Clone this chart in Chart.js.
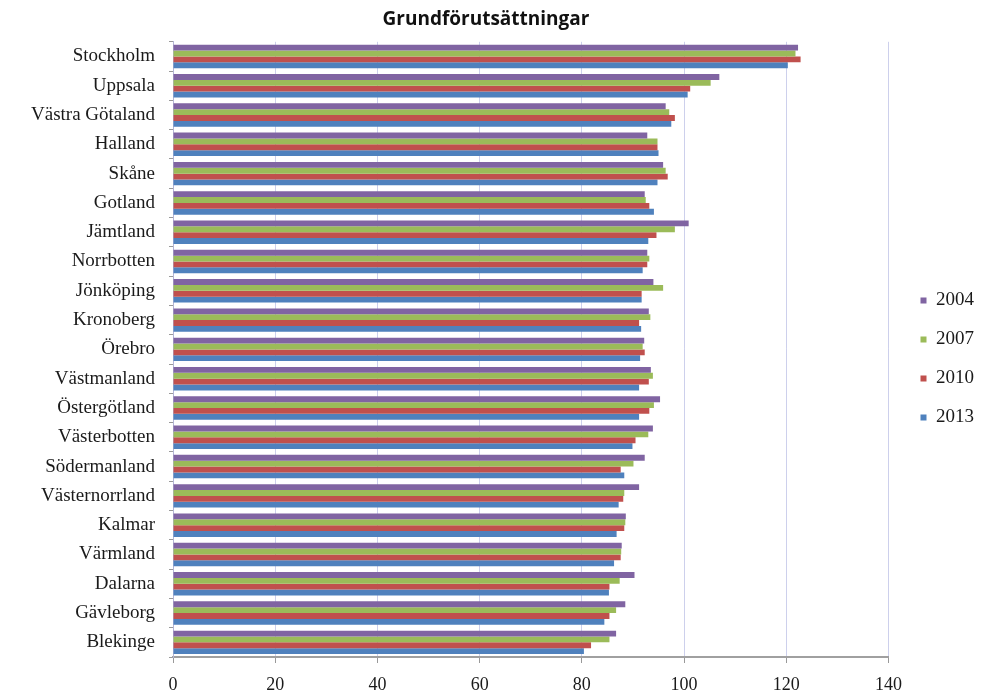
<!DOCTYPE html>
<html>
<head>
<meta charset="utf-8">
<script src="https://cdn.jsdelivr.net/npm/chart.js@4/dist/chart.umd.min.js"></script>
<style>
  html, body { margin: 0; padding: 0; background: #fff; }
</style>
</head>
<body>
<canvas id="lan" width="982" height="700"></canvas>
<script>
var regions = ['Stockholm', 'Uppsala', 'Västra Götaland', 'Halland', 'Skåne', 'Gotland',
  'Jämtland', 'Norrbotten', 'Jönköping', 'Kronoberg', 'Örebro', 'Västmanland',
  'Östergötland', 'Västerbotten', 'Södermanland', 'Västernorrland', 'Kalmar',
  'Värmland', 'Dalarna', 'Gävleborg', 'Blekinge'];

var years = ['2004', '2007', '2010', '2013'];

var v2004 = [122.3, 106.9, 96.4, 92.8, 95.9, 92.3, 100.9, 92.8, 94.0, 93.1, 92.2, 93.5,
  95.3, 93.9, 92.3, 91.2, 88.6, 87.8, 90.3, 88.5, 86.7];
var v2007 = [121.8, 105.2, 97.1, 94.8, 96.4, 92.5, 98.2, 93.2, 95.9, 93.4, 91.9, 93.9,
  94.1, 93.0, 90.1, 88.3, 88.5, 87.7, 87.4, 86.7, 85.4];
var v2010 = [122.8, 101.2, 98.2, 94.8, 96.8, 93.2, 94.6, 92.8, 91.7, 91.2, 92.3, 93.1,
  93.2, 90.5, 87.6, 88.1, 88.3, 87.6, 85.4, 85.4, 81.8];
var v2013 = [120.3, 100.7, 97.5, 95.0, 94.8, 94.1, 93.0, 91.9, 91.7, 91.6, 91.4, 91.2,
  91.2, 89.9, 88.3, 87.2, 86.8, 86.3, 85.3, 84.4, 80.4];

var colors = ['#8064A2', '#9BBB59', '#C0504D', '#4F81BD'];
var series = [v2004, v2007, v2010, v2013];

// legend sits a bit away from the plot, like the old spreadsheet layout
var legendShift = {
  id: 'legendShift',
  afterLayout: function(chart) {
    var lg = chart.legend;
    if (!lg) return;
    lg.left += 12;
    lg.right += 12;
    lg.top += 9;
    lg.bottom += 9;
  }
};

var serif = 'Liberation Serif, Times New Roman, serif';

var ctx = document.getElementById('lan');
var chart = new Chart(ctx, {
  type: 'bar',
  data: {
    labels: regions,
    datasets: series.map(function(d, i) {
      return {
        label: years[i],
        data: d,
        backgroundColor: colors[i],
        borderWidth: 0,
        categoryPercentage: 0.8,
        barPercentage: 1.0
      };
    })
  },
  options: {
    indexAxis: 'y',
    responsive: false,
    animation: false,
    layout: {
      padding: { left: 0, right: 10, top: 0, bottom: 0 }
    },
    plugins: {
      title: {
        display: true,
        text: 'Grundförutsättningar',
        color: '#111',
        font: { family: 'Open Sans', size: 19, weight: 'bold' },
        padding: { top: 8, bottom: 11 }
      },
      legend: {
        position: 'right',
        labels: {
          color: '#1a1a1a',
          boxWidth: 6,
          boxHeight: 6,
          padding: 20,
          font: { family: serif, size: 19 }
        }
      },
      tooltip: { enabled: false }
    },
    scales: {
      x: {
        min: 0,
        max: 140,
        afterFit: function(scale) { scale.height = 43; },
        ticks: {
          stepSize: 20,
          color: '#1a1a1a',
          padding: 11,
          font: { family: serif, size: 18 }
        },
        grid: {
          color: '#cdd0ec',
          tickColor: '#999',
          tickLength: 6
        },
        border: { color: '#a0a0a0', width: 2 }
      },
      y: {
        afterFit: function(scale) { scale.width = 173; },
        ticks: {
          color: '#1a1a1a',
          padding: 14,
          autoSkip: false,
          font: { family: serif, size: 19 }
        },
        grid: {
          drawOnChartArea: false,
          tickColor: '#999',
          tickLength: 4
        },
        border: { color: '#b4b6d6', width: 1 }
      }
    }
  },
  plugins: [legendShift]
});
</script>
</body>
</html>
